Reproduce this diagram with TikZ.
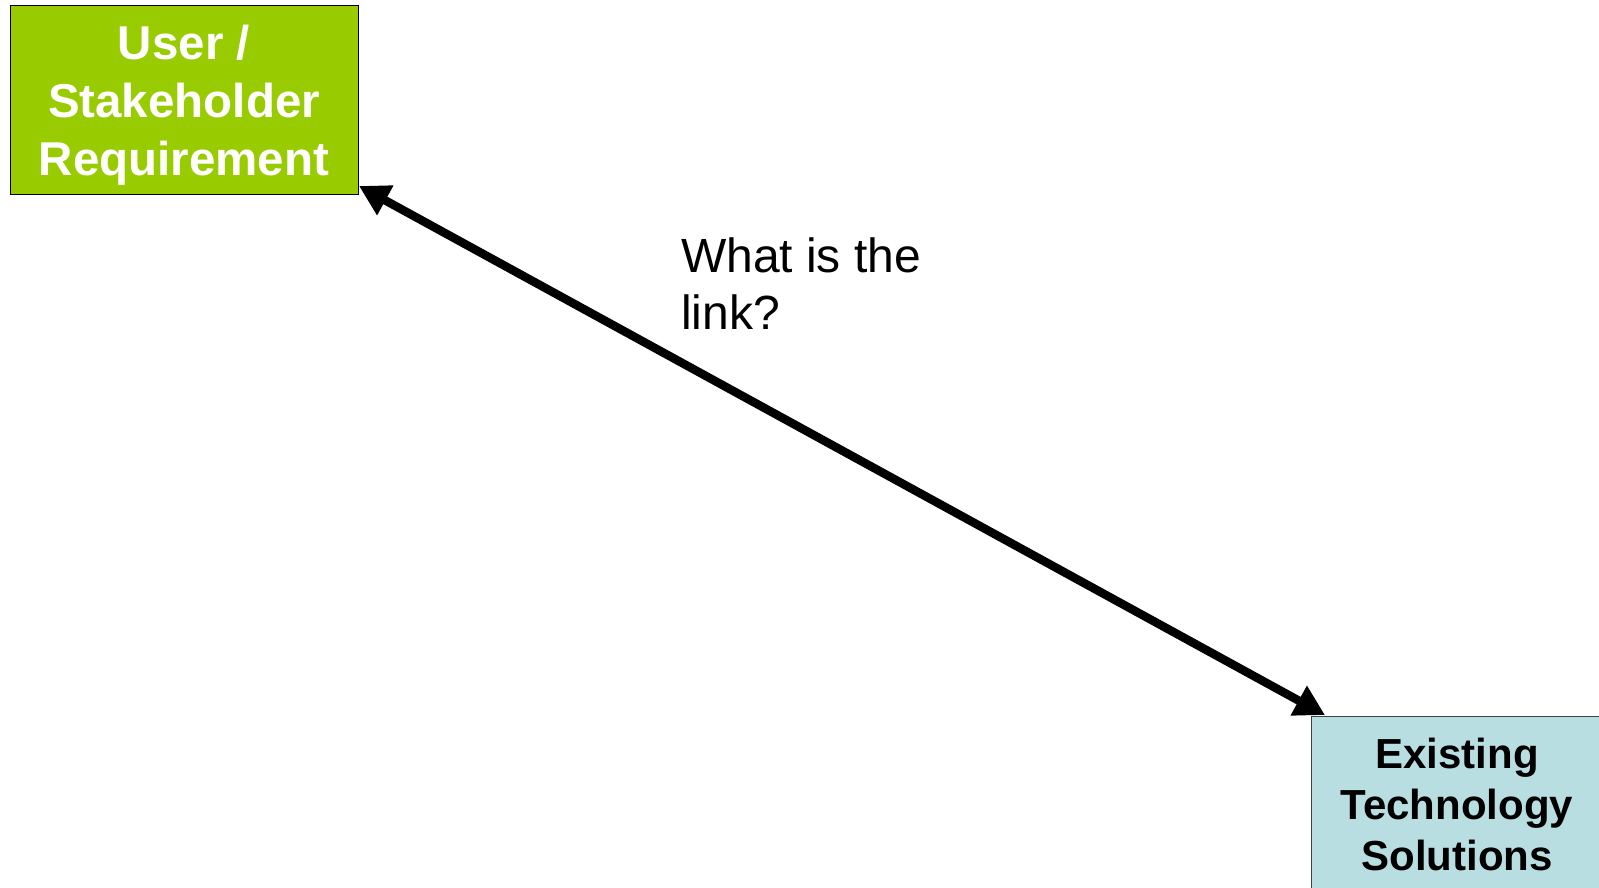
\documentclass[tikz,border=0pt]{standalone}
\usepackage{fontspec}
\setmainfont{Liberation Sans}
\usetikzlibrary{arrows.meta}
\definecolor{reqgreen}{RGB}{153,204,0}
\definecolor{techblue}{RGB}{184,222,225}
\tikzset{
  boxshape/.style={rectangle, inner sep=0pt, outer sep=0pt, anchor=north west, line width=0.9pt},
  boxtext/.style={inner sep=0pt, outer sep=0pt, align=center, anchor=north},
  linkarrow/.style={line width=8.5pt, {Triangle[length=30pt,width=32pt]}-{Triangle[length=30pt,width=32pt]}}
}
\begin{document}
\begin{tikzpicture}[x=1pt,y=-1pt]
\useasboundingbox (0,0) rectangle (1599,887);
\clip (0,0) rectangle (1599,887);
\fill[white] (0,0) rectangle (1599,887);
\node[boxshape, draw=black, fill=reqgreen, minimum width=348pt, minimum height=189pt] (req) at (10,5) {};
\node[boxtext, text=white, font=\bfseries\fontsize{47.5}{58}\selectfont] (reqtext) at (184,25.5) {User /\\Stakeholder\\Requirement};
\node[boxshape, draw=black!75, fill=techblue, minimum width=300pt, minimum height=200pt] (tech) at (1311,716) {};
\node[boxtext, text=black, font=\bfseries\fontsize{42}{51}\selectfont] (techtext) at (1457,738) {Existing\\Technology\\Solutions};
\node[inner sep=0pt, outer sep=0pt, align=left, anchor=north west, font=\fontsize{48}{57}\selectfont] (link) at (681,238) {What is the\\link?};
\draw[linkarrow] ([shift={(1,-8)}]req.south east) -- ([shift={(14,-1)}]tech.north west);
\end{tikzpicture}
\end{document}
